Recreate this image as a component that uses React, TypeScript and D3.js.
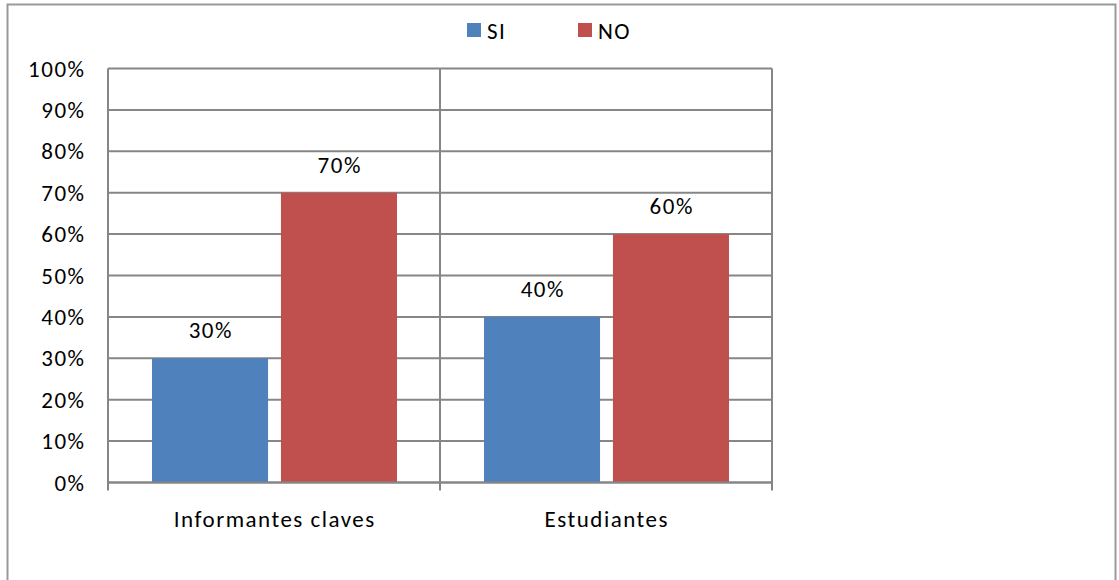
import React from "react";
import * as d3 from "d3";

const categories = ["Informantes claves", "Estudiantes"];
const seriesNames = ["SI", "NO"];
const siValues = [0.3, 0.4];
const noValues = [0.7, 0.6];
const yTicks = [0, 0.1, 0.2, 0.3, 0.4, 0.5, 0.6, 0.7, 0.8, 0.9, 1.0];
const colors = ["#4F81BD", "#C0504D"];

const W = 1119;
const H = 580;
const plot = { left: 108, right: 772, top: 68.5, bottom: 482.5 };
const FONT = "Carlito, Calibri, Lato, 'Open Sans', sans-serif";

export default function App() {
  const x0 = d3.scaleBand<string>().domain(categories).range([plot.left, plot.right]).paddingInner(0).paddingOuter(0);
  const x1 = d3.scaleBand<string>().domain(seriesNames).range([44, 289]).paddingInner(0.1).paddingOuter(0);
  const y = d3.scaleLinear().domain([0, 1]).range([plot.bottom, plot.top]);
  const fmt = d3.format(".0%");
  const series = [siValues, noValues];
  const grid = "#868686";
  const fs = 23;
  const ls = 1.5;

  return (
    <svg width={W} height={H} style={{ position: "absolute", left: 0, top: 0 }} fontFamily={FONT} letterSpacing={ls}>
      <rect x={0} y={0} width={W} height={H} fill="#fff" />
      <rect x={7.5} y={4.5} width={1108} height={600} fill="none" stroke="#999" strokeWidth={2} />
      {yTicks.map((t) => (
        <line key={"g" + t} x1={plot.left} x2={plot.right} y1={y(t)} y2={y(t)} stroke={grid} strokeWidth={2} />
      ))}
      {[plot.left, ...categories.map((c) => (x0(c) as number) + x0.bandwidth())].map((xv, i) => (
        <line key={"v" + i} x1={xv} x2={xv} y1={plot.top} y2={plot.bottom + 8} stroke={grid} strokeWidth={2} />
      ))}
      {categories.map((c, ci) =>
        seriesNames.map((s, si) => {
          const v = series[si][ci];
          const bx = (x0(c) as number) + (x1(s) as number);
          return (
            <g key={c + s}>
              <rect x={bx} y={y(v)} width={x1.bandwidth()} height={y(0) - y(v)} fill={colors[si]} />
              <text x={bx + x1.bandwidth() / 2 + ls / 2} y={y(v) - 20} textAnchor="middle" fontSize={fs} fill="#000">
                {fmt(v)}
              </text>
            </g>
          );
        })
      )}
      <line x1={plot.left} x2={plot.right} y1={y(0)} y2={y(0)} stroke={grid} strokeWidth={2} />
      {yTicks.map((t) => (
        <text key={"t" + t} x={84 + ls} y={y(t) + 8} textAnchor="end" fontSize={fs} fill="#000">
          {fmt(t)}
        </text>
      ))}
      {categories.map((c) => (
        <text key={"c" + c} x={(x0(c) as number) + x0.bandwidth() / 2 + ls / 2} y={527} textAnchor="middle" fontSize={fs} fill="#000">
          {c}
        </text>
      ))}
      {seriesNames.map((s, i) => {
        const lx = i === 0 ? 467 : 578;
        return (
          <g key={"l" + s}>
            <rect x={lx} y={23} width={14} height={14} fill={colors[i]} />
            <text x={lx + 20} y={39} fontSize={fs} fill="#000">
              {s}
            </text>
          </g>
        );
      })}
    </svg>
  );
}
